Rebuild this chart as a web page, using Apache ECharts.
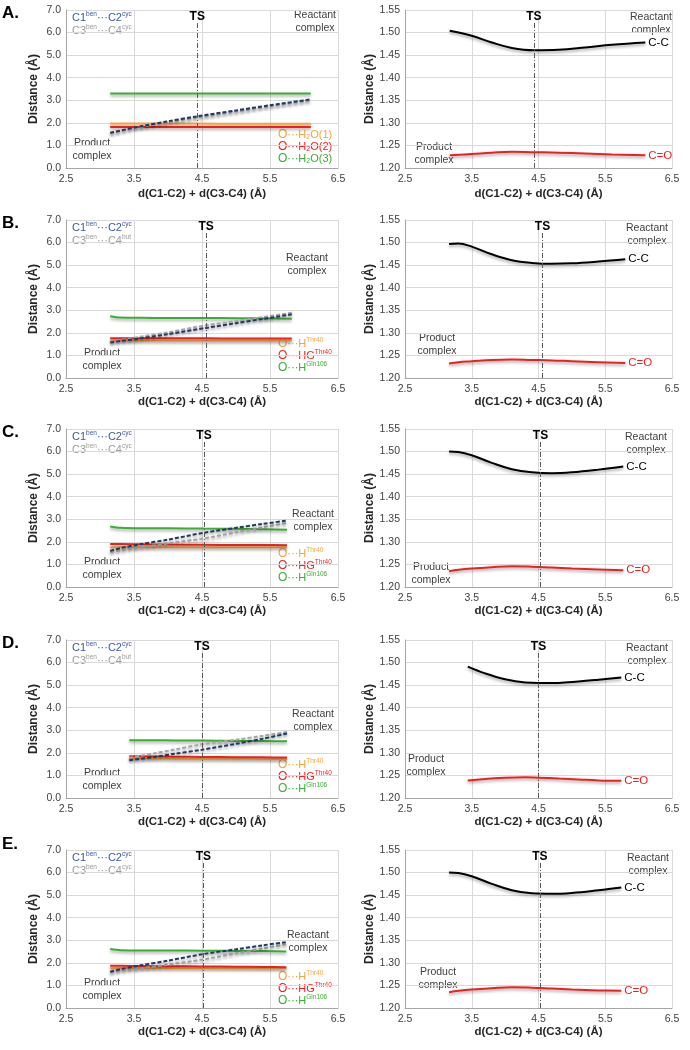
<!DOCTYPE html>
<html><head><meta charset="utf-8">
<script src="https://cdn.jsdelivr.net/npm/echarts@6/dist/echarts.min.js"></script>
<style>html,body{margin:0;padding:0;background:#fff}#c{width:690px;height:1050px}</style>
</head><body><div id="c"></div>
<script>
// ================= DATA =================
const xTickStart = 2.5, xTickEnd = 6.5, xTickStep = 1;
const leftYTicks = {min: 0, max: 7, step: 1};
const rightYTicks = {min: 1.2, max: 1.55, step: 0.05};
const panelLetters = ['A.', 'B.', 'C.', 'D.', 'E.'];
const tsPositions = [4.43, 4.56, 4.53, 4.50, 4.52];
const c3c4Suffix = ['cyc', 'but', 'cyc', 'but', 'cyc'];

// Panel A (left)
const A_x      = [3.15, 3.6, 4.0, 4.43, 5.0, 5.5, 6.1];
const A_c1c2   = [1.56, 1.85, 2.07, 2.29, 2.55, 2.78, 3.04];
const A_c3c4   = [1.54, 1.82, 2.03, 2.24, 2.50, 2.74, 3.00];
const A_orange = [1.97, 1.97, 1.97, 1.97, 1.96, 1.96, 1.96];
const A_red    = [1.82, 1.82, 1.82, 1.82, 1.82, 1.82, 1.82];
const A_green  = [3.30, 3.30, 3.30, 3.30, 3.30, 3.30, 3.30];
// Panel A (right)
const Ar_x  = [3.17, 3.5, 3.8, 4.1, 4.43, 4.8, 5.2, 5.6, 6.1];
const Ar_cc = [1.504, 1.493, 1.478, 1.466, 1.461, 1.462, 1.467, 1.473, 1.478];
const Ar_co = [1.228, 1.231, 1.234, 1.236, 1.235, 1.234, 1.232, 1.230, 1.228];

// Panel B (left)
const B_x      = [3.15, 3.3, 3.6, 4.0, 4.56, 5.0, 5.4, 5.82];
const B_c1c2   = [1.57, 1.64, 1.76, 1.94, 2.22, 2.43, 2.62, 2.82];
const B_c3c4   = [1.60, 1.68, 1.83, 2.02, 2.34, 2.52, 2.70, 2.89];
const B_orange = [1.66, 1.66, 1.66, 1.66, 1.66, 1.66, 1.66, 1.66];
const B_red    = [1.76, 1.76, 1.76, 1.76, 1.76, 1.75, 1.75, 1.75];
const B_green  = [2.74, 2.68, 2.67, 2.66, 2.66, 2.65, 2.64, 2.63];
// Panel B (right)
const Br_x  = [3.16, 3.3, 3.5, 3.8, 4.1, 4.4, 4.7, 5.0, 5.4, 5.8];
const Br_cc = [1.497, 1.498, 1.491, 1.474, 1.461, 1.455, 1.453, 1.454, 1.458, 1.463];
const Br_co = [1.232, 1.235, 1.237, 1.240, 1.241, 1.240, 1.239, 1.237, 1.235, 1.233];

// Panel C (left)
const C_x      = [3.15, 3.3, 3.6, 4.0, 4.52, 5.0, 5.4, 5.75];
const C_c1c2   = [1.60, 1.72, 1.90, 2.10, 2.40, 2.62, 2.80, 2.94];
const C_c3c4   = [1.55, 1.62, 1.76, 1.93, 2.15, 2.42, 2.65, 2.84];
const C_orange = [1.75, 1.76, 1.76, 1.76, 1.76, 1.76, 1.76, 1.76];
const C_red    = [1.90, 1.90, 1.89, 1.88, 1.87, 1.86, 1.86, 1.85];
const C_green  = [2.68, 2.62, 2.60, 2.60, 2.59, 2.58, 2.56, 2.54];
// Panel C (right)
const Cr_x  = [3.16, 3.3, 3.5, 3.8, 4.1, 4.4, 4.7, 5.0, 5.4, 5.77];
const Cr_cc = [1.500, 1.499, 1.492, 1.475, 1.461, 1.454, 1.452, 1.454, 1.460, 1.467];
const Cr_co = [1.235, 1.238, 1.241, 1.244, 1.246, 1.245, 1.243, 1.241, 1.239, 1.237];

// Panel D (left)
const D_x      = [3.43, 3.8, 4.1, 4.5, 5.0, 5.4, 5.75];
const D_c1c2   = [1.67, 1.82, 1.96, 2.14, 2.40, 2.63, 2.86];
const D_c3c4   = [1.78, 1.98, 2.15, 2.38, 2.58, 2.76, 2.93];
const D_orange = [1.75, 1.75, 1.74, 1.74, 1.74, 1.73, 1.73];
const D_red    = [1.85, 1.84, 1.83, 1.82, 1.81, 1.80, 1.79];
const D_green  = [2.56, 2.56, 2.55, 2.55, 2.53, 2.52, 2.51];
// Panel D (right)
const Dr_x  = [3.44, 3.7, 4.0, 4.3, 4.5, 4.8, 5.1, 5.4, 5.74];
const Dr_cc = [1.491, 1.476, 1.463, 1.456, 1.455, 1.455, 1.458, 1.462, 1.467];
const Dr_co = [1.239, 1.242, 1.245, 1.246, 1.245, 1.243, 1.241, 1.239, 1.238];

// Panel E (left)
const E_x      = [3.15, 3.3, 3.6, 4.0, 4.52, 5.0, 5.4, 5.74];
const E_c1c2   = [1.61, 1.72, 1.89, 2.10, 2.39, 2.60, 2.78, 2.92];
const E_c3c4   = [1.58, 1.64, 1.76, 1.92, 2.15, 2.42, 2.64, 2.83];
const E_orange = [1.76, 1.77, 1.77, 1.77, 1.77, 1.77, 1.77, 1.77];
const E_red    = [1.87, 1.87, 1.86, 1.85, 1.84, 1.83, 1.82, 1.81];
const E_green  = [2.61, 2.56, 2.55, 2.55, 2.54, 2.53, 2.52, 2.50];
// Panel E (right)
const Er_x  = [3.16, 3.3, 3.5, 3.8, 4.1, 4.4, 4.7, 5.0, 5.4, 5.74];
const Er_cc = [1.500, 1.499, 1.492, 1.475, 1.461, 1.454, 1.453, 1.455, 1.461, 1.467];
const Er_co = [1.235, 1.238, 1.241, 1.244, 1.246, 1.245, 1.243, 1.241, 1.239, 1.238];

// ================= STYLE / LAYOUT =================
const FONT = '"Liberation Sans", Arial, sans-serif';
const COL = {navy: '#1f3864', navyText: '#3b5b9c', gray: '#a6a6a6', grayText: '#9a9a9a',
  orange: '#f5a53c', red: '#f01e1e', green: '#3aae32', black: '#000000', grid: '#d9d9d9',
  axis: '#a6a6a6', label: '#404040', ann: '#404040'};
const L_LEFT = 66, L_W = 272, R_LEFT = 405, R_W = 267, H = 158;
const TOPS = [10, 220, 429, 640, 850];
const xNameGap = [20, 14, 14, 14, 14];
const letterY = [14, 224, 433, 644, 845];
const reactL = [[249, 5], [241, 38], [247, 85], [247, 74], [242, 85]];
const prodL = [[26, 133], [36, 133], [36, 133], [36, 133], [36, 133]];
const legL = [[212, 125], [212, 124], [212, 125], [212, 125], [212, 127]];
const reactR = [[246, 7], [242, 8], [241, 8], [242, 8], [243, 8]];
const prodR = [[29, 137], [32, 118], [26, 138], [21, 119], [33, 122]];

const leftData = [
  {x: A_x, c1c2: A_c1c2, c3c4: A_c3c4, o: A_orange, r: A_red, g: A_green},
  {x: B_x, c1c2: B_c1c2, c3c4: B_c3c4, o: B_orange, r: B_red, g: B_green},
  {x: C_x, c1c2: C_c1c2, c3c4: C_c3c4, o: C_orange, r: C_red, g: C_green},
  {x: D_x, c1c2: D_c1c2, c3c4: D_c3c4, o: D_orange, r: D_red, g: D_green},
  {x: E_x, c1c2: E_c1c2, c3c4: E_c3c4, o: E_orange, r: E_red, g: E_green}
];
const rightData = [
  {x: Ar_x, cc: Ar_cc, co: Ar_co}, {x: Br_x, cc: Br_cc, co: Br_co},
  {x: Cr_x, cc: Cr_cc, co: Cr_co}, {x: Dr_x, cc: Dr_cc, co: Dr_co},
  {x: Er_x, cc: Er_cc, co: Er_co}
];

const zip = (xs, ys) => xs.map((x, i) => [x, ys[i]]);
const shadow = {shadowColor: 'rgba(0,0,0,0.35)', shadowBlur: 3, shadowOffsetY: 2};

const grids = [], xAxes = [], yAxes = [], series = [], graphics = [];

function makeAxes(idx, isLeft, p) {
  xAxes.push({
    gridIndex: idx, type: 'value', min: xTickStart, max: xTickEnd, interval: xTickStep,
    name: 'd(C1-C2) + d(C3-C4) (Å)', nameLocation: 'middle', nameGap: xNameGap[p],
    nameTextStyle: {fontFamily: FONT, fontWeight: 'bold', fontSize: 11.5, color: '#262626'},
    axisLine: {show: true, onZero: false, lineStyle: {color: COL.axis}},
    axisTick: {show: false},
    axisLabel: {fontFamily: FONT, fontSize: 10.5, color: COL.label, margin: 6, formatter: v => v.toFixed(1)},
    splitLine: {show: true, lineStyle: {color: COL.grid}}
  });
  const yt = isLeft ? leftYTicks : rightYTicks;
  yAxes.push({
    gridIndex: idx, type: 'value', min: yt.min, max: yt.max, interval: yt.step,
    name: 'Distance (Å)', nameLocation: 'middle', nameGap: isLeft ? 26 : 29,
    nameTextStyle: {fontFamily: FONT, fontWeight: 'bold', fontSize: 12, color: '#262626'},
    axisLine: {show: true, lineStyle: {color: COL.axis}},
    axisTick: {show: false},
    axisLabel: {fontFamily: FONT, fontSize: 10.5, color: COL.label, margin: 5,
      formatter: v => isLeft ? v.toFixed(1) : v.toFixed(2)},
    splitLine: {show: true, lineStyle: {color: COL.grid}}
  });
}

function tsMarkLine(ts, y0, y1) {
  return {
    silent: true, symbol: 'none', animation: false,
    lineStyle: {color: '#595959', type: [5, 2, 1, 2], width: 1},
    label: {show: true, position: 'end', formatter: 'TS', fontFamily: FONT, fontWeight: 'bold', fontSize: 12, color: '#000', distance: 0},
    data: [[{coord: [ts, y0]}, {coord: [ts, y1]}]]
  };
}

for (let p = 0; p < 5; p++) {
  const T = TOPS[p];
  const li = p * 2, ri = p * 2 + 1;
  grids.push({left: L_LEFT, top: T, width: L_W, height: H});
  grids.push({left: R_LEFT, top: T, width: R_W, height: H});
  makeAxes(li, true, p);
  makeAxes(ri, false, p);

  const d = leftData[p];
  const base = {type: 'line', xAxisIndex: li, yAxisIndex: li, showSymbol: false, symbol: 'none', smooth: 0.3, animation: false, silent: true};
  series.push(Object.assign({}, base, {name: 'green', data: zip(d.x, d.g), lineStyle: Object.assign({color: COL.green, width: 2}, shadow),
    markLine: tsMarkLine(tsPositions[p], 0, 6.45)}));
  series.push(Object.assign({}, base, {name: 'orange', data: zip(d.x, d.o), lineStyle: Object.assign({color: COL.orange, width: 2}, shadow)}));
  series.push(Object.assign({}, base, {name: 'red', data: zip(d.x, d.r), lineStyle: Object.assign({color: COL.red, width: 2}, shadow)}));
  series.push(Object.assign({}, base, {name: 'c3c4', data: zip(d.x, d.c3c4), lineStyle: Object.assign({color: COL.gray, width: 2, type: [4, 2]}, shadow)}));
  series.push(Object.assign({}, base, {name: 'c1c2', data: zip(d.x, d.c1c2), lineStyle: Object.assign({color: COL.navy, width: 2, type: [4, 2]}, shadow)}));

  const r = rightData[p];
  const rbase = {type: 'line', xAxisIndex: ri, yAxisIndex: ri, showSymbol: false, symbol: 'none', smooth: 0.4, animation: false, silent: true};
  series.push(Object.assign({}, rbase, {name: 'C-C', data: zip(r.x, r.cc), lineStyle: Object.assign({color: COL.black, width: 2}, shadow),
    endLabel: {show: true, formatter: 'C-C', fontFamily: FONT, fontSize: 11.5, color: '#000', distance: 3},
    markLine: tsMarkLine(tsPositions[p], 1.2, 1.522)}));
  series.push(Object.assign({}, rbase, {name: 'C=O', data: zip(r.x, r.co), lineStyle: Object.assign({color: COL.red, width: 2}, shadow),
    endLabel: {show: true, formatter: 'C=O', fontFamily: FONT, fontSize: 11.5, color: COL.red, distance: 3}}));

  // ---- annotations ----
  graphics.push({type: 'text', left: 2, top: letterY[p] - 9, style: {text: panelLetters[p], font: 'bold 17px ' + FONT, fill: '#000'}});
  const sup = (c) => ({fontSize: 6.5, fontFamily: FONT, fill: c, verticalAlign: 'top', lineHeight: 13});
  const mn = (c) => ({fontSize: 11, fontFamily: FONT, fill: c, lineHeight: 13});
  graphics.push({type: 'text', x: L_LEFT + 6, y: T + 1, style: {text: '{m|C1}{s|ben}{m|···C2}{s|cyc}', rich: {m: mn(COL.navyText), s: sup(COL.navyText)}}});
  graphics.push({type: 'text', x: L_LEFT + 6, y: T + 14, style: {text: '{m|C3}{s|ben}{m|···C4}{s|' + c3c4Suffix[p] + '}', rich: {m: mn(COL.grayText), s: sup(COL.grayText)}}});
  const annStyle = {font: '10.5px ' + FONT, fill: COL.ann, align: 'center', verticalAlign: 'top', lineHeight: 12.5};
  graphics.push({type: 'text', x: L_LEFT + reactL[p][0], y: T + reactL[p][1] - 6, style: Object.assign({text: 'Reactant\ncomplex'}, annStyle)});
  graphics.push({type: 'text', x: L_LEFT + prodL[p][0], y: T + prodL[p][1] - 6, style: Object.assign({text: 'Product\ncomplex'}, annStyle)});
  graphics.push({type: 'text', x: R_LEFT + reactR[p][0], y: T + reactR[p][1] - 6, style: Object.assign({text: 'Reactant\ncomplex'}, annStyle)});
  graphics.push({type: 'text', x: R_LEFT + prodR[p][0], y: T + prodR[p][1] - 6, style: Object.assign({text: 'Product\ncomplex'}, annStyle)});

  const lx = L_LEFT + legL[p][0], ly = T + legL[p][1];
  const subB = (c) => ({fontSize: 7, fontFamily: FONT, fill: c, verticalAlign: 'bottom', lineHeight: 13});
  const bigO = (c) => ({fontSize: 12, fontFamily: FONT, fill: c, lineHeight: 13});
  let leg;
  if (p === 0) {
    leg = [
      ['{o|O}{m|···H}{b|2}{m|O(1)}', COL.orange],
      ['{o|O}{m|···H}{b|2}{m|O(2)}', COL.red],
      ['{o|O}{m|···H}{b|2}{m|O(3)}', COL.green]
    ];
  } else {
    leg = [
      ['{o|O}{m|···H}{s|Thr40}', COL.orange],
      ['{o|O}{m|···HG}{s|Thr40}', COL.red],
      ['{o|O}{m|···H}{s|Gln106}', COL.green]
    ];
  }
  leg.forEach((it, k) => {
    graphics.push({type: 'text', x: lx, y: ly + k * 12 - 7, style: {text: it[0],
      rich: {o: bigO(it[1]), m: mn(it[1]), s: sup(it[1]), b: subB(it[1])}}});
  });
}

const chart = echarts.init(document.getElementById('c'), null, {renderer: 'canvas'});
chart.setOption({
  backgroundColor: '#ffffff',
  animation: false,
  grid: grids, xAxis: xAxes, yAxis: yAxes, series: series, graphic: graphics
});
</script></body></html>
